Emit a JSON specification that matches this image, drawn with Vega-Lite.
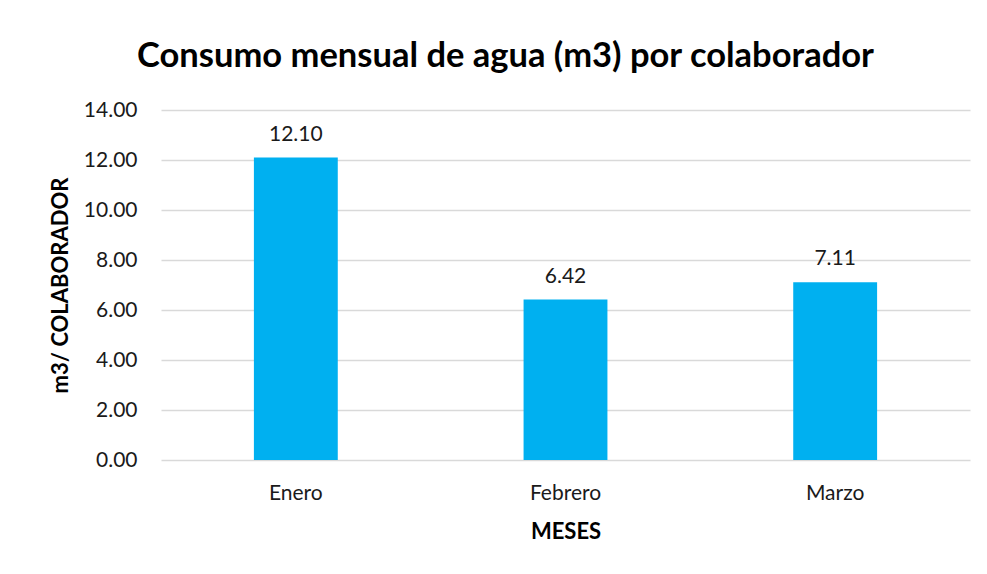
{
  "$schema": "https://vega.github.io/schema/vega-lite/v6.json",
  "width": 809,
  "height": 350,
  "autosize": {"type": "none"},
  "padding": {"left": 161, "top": 110, "right": 17, "bottom": 114},
  "background": "white",
  "title": {
    "text": "Consumo mensual de agua (m3) por colaborador",
    "font": "Lato",
    "fontSize": 34.5,
    "fontWeight": "bold",
    "color": "#000000",
    "anchor": "middle",
    "dx": -60,
    "offset": 25
  },
  "data": {
    "values": [
      {"mes": "Enero", "consumo": 12.10},
      {"mes": "Febrero", "consumo": 6.42},
      {"mes": "Marzo", "consumo": 7.11}
    ]
  },
  "encoding": {
    "x": {
      "field": "mes",
      "type": "nominal",
      "sort": null,
      "scale": {"paddingInner": 0.689, "paddingOuter": 0.3445},
      "axis": {
        "title": "MESES",
        "labelAngle": 0,
        "labelFont": "Lato",
        "labelFontSize": 21,
        "labelColor": "#1a1a1a",
        "labelBaseline": "alphabetic",
        "labelPadding": 39,
        "ticks": false,
        "tickSize": 0,
        "domain": false,
        "titleFont": "Lato",
        "titleFontSize": 22,
        "titleFontWeight": "bold",
        "titleColor": "#000000",
        "titleBaseline": "alphabetic",
        "titlePadding": 35
      }
    },
    "y": {
      "field": "consumo",
      "type": "quantitative",
      "scale": {"domain": [0, 14], "nice": false},
      "axis": {
        "title": "m3/ COLABORADOR",
        "values": [0, 2, 4, 6, 8, 10, 12, 14],
        "format": ".2f",
        "labelFont": "Lato",
        "labelFontSize": 21,
        "labelColor": "#1a1a1a",
        "labelPadding": 24,
        "ticks": false,
        "tickSize": 0,
        "domain": false,
        "grid": true,
        "gridColor": "#d9d9d9",
        "gridWidth": 1.5,
        "titleFont": "Lato",
        "titleFontSize": 22,
        "titleFontWeight": "bold",
        "titleColor": "#000000",
        "titlePadding": 11
      }
    }
  },
  "layer": [
    {
      "mark": {"type": "bar", "color": "#00b0f0"}
    },
    {
      "mark": {
        "type": "text",
        "font": "Lato",
        "fontSize": 21,
        "color": "#1a1a1a",
        "baseline": "alphabetic",
        "dy": -17
      },
      "encoding": {
        "text": {"field": "consumo", "type": "quantitative", "format": ".2f"}
      }
    }
  ],
  "config": {
    "view": {"stroke": null}
  }
}
